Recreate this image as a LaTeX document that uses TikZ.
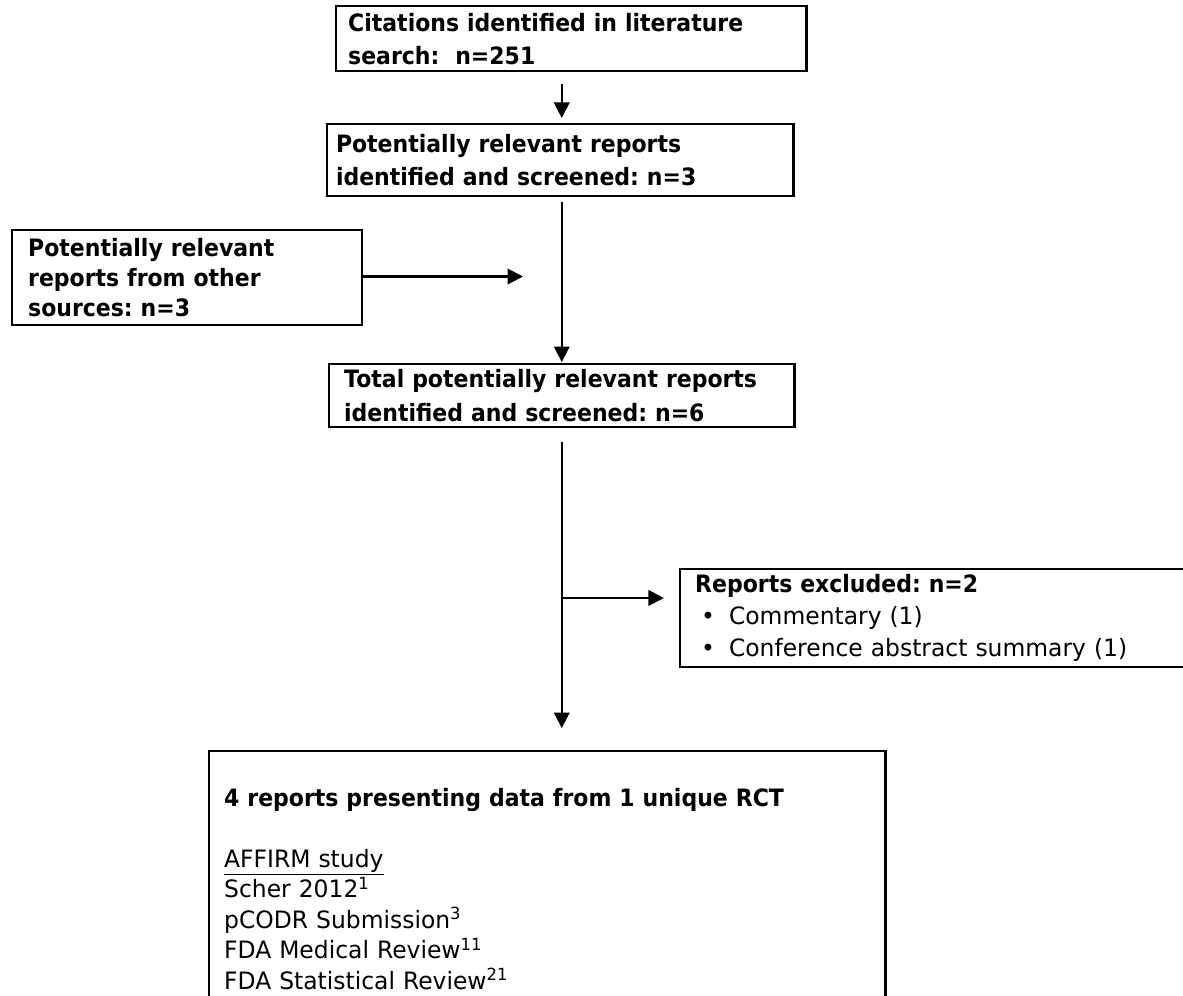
\documentclass[tikz,border=0pt]{standalone}
\usepackage{fontspec}
\setmainfont[FakeStretch=0.98,BoldFeatures={FakeStretch=0.92}]{DejaVu Sans}
\frenchspacing
\usetikzlibrary{arrows.meta}
\tikzset{
  box/.style={draw, line width=1.7pt, anchor=north west, align=left, inner xsep=0.375cm, inner ysep=0pt},
  conn/.style={line width=1.45pt},
  arr/.style={conn, -{Triangle[length=11pt,width=11pt]}}
}
\begin{document}
\begin{tikzpicture}[x=0.025cm,y=-0.025cm]
        \useasboundingbox (0,0) rectangle (1183,995);
        \begin{scope}[every node/.style={box}]
            \node[inner xsep=0.3cm, text width=11.15cm, minimum height=1.625cm, font=\bfseries\fontsize{17}{23.5}\selectfont] (cites) at (335,5) {Citations identified in literature\\search:\ \ n=251};
            \node[inner xsep=0.22cm, text width=11.21cm, minimum height=1.8cm, font=\bfseries\fontsize{17}{24}\selectfont] (screen) at (326,123) {Potentially relevant reports\\identified and screened: n=3};
            \node[inner xsep=0.4cm, text width=7.95cm, minimum height=2.375cm, font=\bfseries\fontsize{17}{21.5}\selectfont] (other) at (11,229) {Potentially relevant\\reports from other\\sources: n=3};
            \node[text width=10.875cm, minimum height=1.575cm, font=\bfseries\fontsize{17}{24}\selectfont] (total) at (328,363) {Total potentially relevant reports\\identified and screened: n=6};
            \node[text width=12.025cm, minimum height=2.45cm, font=\fontsize{17}{22.8}\selectfont] (excl) at (679,568) {{\bfseries Reports excluded: n=2}\\\hspace*{0.15cm}\textbullet\hspace{0.35cm}Commentary (1)\\\hspace*{0.15cm}\textbullet\hspace{0.35cm}Conference abstract summary (1)};
            \node[text width=16.15cm, inner ysep=0.925cm, font=\fontsize{17}{21.7}\selectfont] (incl) at (208,750) {{\bfseries 4 reports presenting data from 1 unique RCT}\\[21.7pt]\underline{AFFIRM study}\\Scher 2012\textsuperscript{1}\\pCODR Submission\textsuperscript{3}\\FDA Medical Review\textsuperscript{11}\\FDA Statistical Review\textsuperscript{21}};
        \end{scope}
        \coordinate (merge) at (523,276.5);
        \coordinate (split) at (560.5,598);
        \draw[arr, shorten <=8.5pt, shorten >=3.6pt] (cites.south -| total.north) -- (screen.north -| total.north);
        \draw[arr, shorten <=3.6pt, shorten >=0.7pt] (screen.south -| total.north) -- (total.north);
        \draw[arr] (other.east |- merge) -- (merge);
        \draw[arr, shorten <=10pt, shorten >=15.6pt] (total.south) -- (total.south |- incl.north);
        \draw[arr, shorten >=10.7pt] (split) -- (split -| excl.west);
    \end{tikzpicture}
\end{document}
